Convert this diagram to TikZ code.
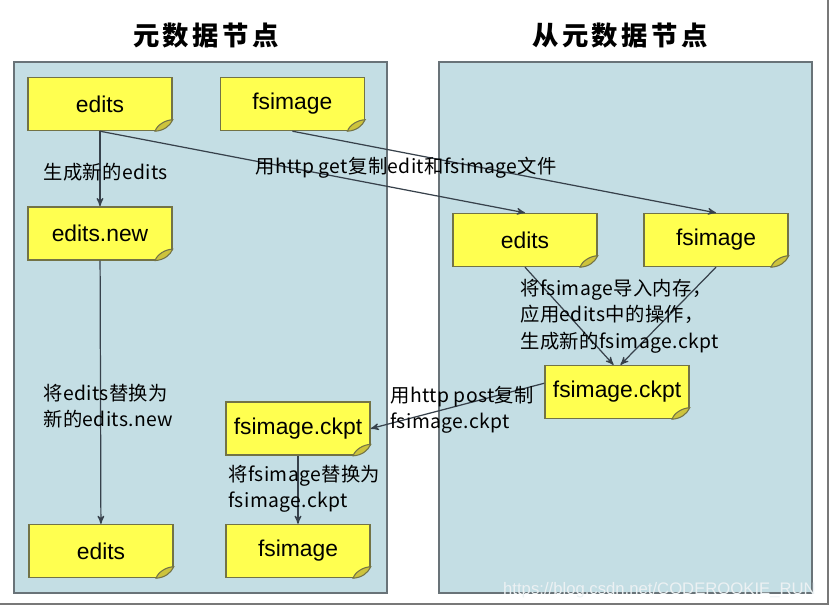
\documentclass[tikz,border=0pt]{standalone}
\usepackage{fontspec}
\setmainfont{Noto Sans CJK SC}
\newfontfamily\notefont{Liberation Sans}
\usetikzlibrary{arrows, positioning}
\definecolor{panelblue}{RGB}{196,222,228}
\definecolor{panelline}{RGB}{105,115,120}
\definecolor{noteyellow}{RGB}{255,255,80}
\definecolor{noteline}{RGB}{115,115,70}
\definecolor{notefold}{RGB}{205,195,60}
\definecolor{flowline}{RGB}{55,65,75}
\definecolor{framegray}{RGB}{120,120,120}
\definecolor{markgray}{RGB}{236,241,243}
\tikzset{
>=stealth', % small filled heads
panel/.style={draw=panelline, fill=panelblue, line width=1.1pt, minimum width=7.46cm, minimum height=10.62cm, inner sep=0pt},
title/.style={font=\bfseries\fontsize{15}{18}\selectfont},
notebox/.style={draw=noteline, fill=noteyellow, line width=0.8pt, minimum width=2.88cm, minimum height=1.06cm,
  font=\notefont\fontsize{13}{15}\selectfont},
flow/.style={->, draw=flowline, line width=0.7pt},
note/.style={font=\fontsize{11}{15}\selectfont\addfontfeatures{LetterSpace=2}, align=left, inner sep=0pt, anchor=west},
}

\begin{document}
\begin{tikzpicture}[x=0.02cm, y=-0.02cm]
  \useasboundingbox (0,0) rectangle (832,610);
  \draw[framegray, line width=1.5pt] (0,604) -- (828,604) -- (828,0);

  \node[panel] (mainpanel) at (200.5,327.5) {};
  \node[panel] (backuppanel) at (625.5,327.5) {};
  \node[title] (maintitle) at (206,36) {元\kern2pt 数\kern2pt 据\kern2pt 节\kern2pt 点};
  \node[title] (backuptitle) at (620,36) {从\kern2pt 元\kern2pt 数\kern2pt 据\kern2pt 节\kern2pt 点};

  % main namenode
  \node[notebox] (edits) at (100,104) {edits};
  \node[notebox, right=0.94cm of edits] (fsimage) {fsimage};
  \node[notebox, below=1.5cm of edits] (editsnew) {edits.new};
  \node[notebox] (editsB) at (101,551) {edits};
  \node[notebox] (fsimageB) at (298,551) {fsimage};
  \node[notebox, above=1.36cm of fsimageB] (ckptL) {fsimage.ckpt};

  % secondary namenode
  \node[notebox] (editsR) at (525,240) {edits};
  \node[notebox] (fsimageR) at (716,240) {fsimage};
  \node[notebox] (ckptR) at (617,392) {fsimage.ckpt};

  % folded corners
  \foreach \n in {edits, fsimage, editsnew, editsB, fsimageB, ckptL, editsR, fsimageR, ckptR} {
    \fill[panelblue] ([shift={(1pt,-1pt)}]\n.south east) -- ([xshift=-10pt,yshift=-1pt]\n.south east)
      -- ([xshift=1pt,yshift=6.5pt]\n.south east) -- cycle;
    \filldraw[draw=noteline, fill=notefold, line width=0.6pt] ([xshift=-10pt]\n.south east)
      .. controls ([xshift=-5pt,yshift=0.3pt]\n.south east) and ([xshift=-1.5pt,yshift=3pt]\n.south east) .. ([yshift=6.5pt]\n.south east)
      .. controls ([xshift=-4pt,yshift=6.5pt]\n.south east) and ([xshift=-9pt,yshift=3.5pt]\n.south east) .. cycle;
  }

  \draw[flow] (edits) -- (editsnew);
  \draw[flow] (edits.south) -- (editsR.north);
  \draw[flow] (fsimage.south) -- (fsimageR.north);
  \draw[flow] (editsnew) -- (editsB);
  \draw[flow] (editsR.south) -- ([xshift=-2pt]ckptR.north);
  \draw[flow] (fsimageR.south) -- ([xshift=2pt]ckptR.north);
  \draw[flow] ([yshift=5pt]ckptR.west) -- (ckptL.east);
  \draw[flow] (ckptL) -- (fsimageB);

  \node[note] (newedits) at (43,172) {生成新的edits};
  \node[note] (getcopy) at (255,168) {用http get复制edit和fsimage文件};
  \node[note] (swapedits) at (43,406) {将edits替换为\\新的edits.new};
  \node[note] (merge) at (520,316) {将fsimage导入内存，\\应用edits中的操作，\\生成新的fsimage.ckpt};
  \node[note] (postcopy) at (390,410) {用http post复制\\fsimage.ckpt};
  \node[note] (swapimage) at (228,489) {将fsimage替换为\\fsimage.ckpt};

  \node[font=\notefont\fontsize{9.5}{11}\selectfont, text=markgray, anchor=east] (mark) at (822,590) {https://blog.csdn.net/CODEROOKIE\_RUN};
\end{tikzpicture}
\end{document}
